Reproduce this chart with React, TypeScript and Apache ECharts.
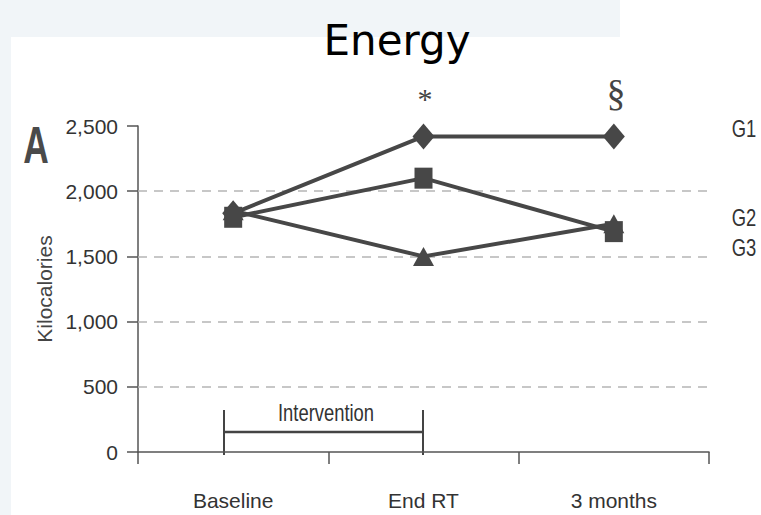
import React, { useEffect, useRef } from "react";
import * as echarts from "echarts";

const categories = ["Baseline", "End RT", "3 months"];
const g1Values = [1830, 2420, 2420];
const g2Values = [1800, 2100, 1690];
const g3Values = [1850, 1500, 1750];
const gridValues = [500, 1000, 1500, 2000];
const seriesNames = ["G1", "G2", "G3"];

const FONT = "'Liberation Sans', Arial, sans-serif";
const INK = "#474747";

export default function App() {
  const ref = useRef<HTMLDivElement>(null);
  useEffect(() => {
    document.body.style.margin = "0";
    const chart = echarts.init(ref.current!, null, { renderer: "svg" });
    const mk = (name: string, data: number[], symbol: string, size: number[], extra: any = {}) => ({
      name,
      type: "line",
      data,
      symbol,
      symbolSize: size,
      lineStyle: { color: INK, width: 4 },
      itemStyle: { color: INK },
      z: 3,
      ...extra,
    });
    const txt = (text: string, x: number, y: number, size: number, extra: any = {}) => ({
      type: "text",
      x,
      y,
      scaleX: 0.8,
      style: { text, fontSize: size, fontFamily: FONT, fill: "#333", align: "center", verticalAlign: "middle", ...extra },
    });
    chart.setOption({
      animation: false,
      backgroundColor: "#f1f5f8",
      grid: { left: 138, right: 52, top: 126, bottom: 63 },
      xAxis: {
        type: "category",
        data: categories,
        boundaryGap: true,
        axisLine: { lineStyle: { color: "#555", width: 1.5 } },
        axisTick: { show: true, length: 12, lineStyle: { color: "#555", width: 1.5 } },
        axisLabel: { margin: 38, fontSize: 21, color: "#333", fontFamily: FONT },
      },
      yAxis: {
        type: "value",
        min: 0,
        max: 2500,
        interval: 500,
        name: "Kilocalories",
        nameLocation: "middle",
        nameGap: 82,
        nameTextStyle: { fontSize: 21, color: "#444", fontFamily: FONT },
        axisLine: { show: true, lineStyle: { color: "#555", width: 1.5 } },
        axisTick: { show: true, length: 11, lineStyle: { color: "#555", width: 1.5 } },
        axisLabel: {
          margin: 20,
          fontSize: 21,
          color: "#333",
          fontFamily: FONT,
          formatter: (v: number) => v.toLocaleString("en-US"),
        },
        splitLine: { show: false },
      },
      series: [
        mk(seriesNames[0], g1Values, "diamond", [22, 26], {
          markLine: {
            silent: true,
            symbol: "none",
            label: { show: false },
            lineStyle: { color: "#b5b5b5", type: [9, 7], width: 1.5 },
            data: gridValues.map((v) => ({ yAxis: v })),
            z: 1,
          },
        }),
        mk(seriesNames[2], g3Values, "triangle", [21, 19]),
        mk(seriesNames[1], g2Values, "rect", [18, 21]),
      ],
      graphic: [
        { type: "rect", shape: { x: 11, y: 37, width: 750, height: 478 }, style: { fill: "#ffffff" }, z: -10 },
        { type: "rect", shape: { x: 620, y: 0, width: 141, height: 37 }, style: { fill: "#ffffff" }, z: -10 },
        {
          type: "text",
          x: 397,
          y: 40,
          style: { text: "Energy", fontSize: 42, fontFamily: "'DejaVu Sans', sans-serif", fill: "#000", align: "center", verticalAlign: "middle" },
        },
        { ...txt("A", 36, 145, 52, { fontWeight: "bold", fill: "#4a4a4a" }), scaleX: 0.68 },
        { type: "text", x: 425, y: 98, style: { text: "*", fontSize: 30, fontFamily: "'Liberation Serif', serif", fill: "#444", align: "center", verticalAlign: "middle" } },
        { type: "text", x: 616, y: 93, style: { text: "§", fontSize: 38, fontFamily: "'Liberation Serif', serif", fill: "#444", align: "center", verticalAlign: "middle" } },
        txt("G1", 744, 129, 23),
        txt("G2", 744, 218, 23),
        txt("G3", 744, 248, 23),
        { type: "line", shape: { x1: 224, y1: 410, x2: 224, y2: 455 }, style: { stroke: "#444", lineWidth: 2 } },
        { type: "line", shape: { x1: 423, y1: 410, x2: 423, y2: 455 }, style: { stroke: "#444", lineWidth: 2 } },
        { type: "line", shape: { x1: 224, y1: 432, x2: 423, y2: 432 }, style: { stroke: "#444", lineWidth: 2.5 } },
        txt("Intervention", 326, 413, 23),
      ],
    });
    return () => chart.dispose();
  }, []);
  return <div ref={ref} style={{ width: 761, height: 515 }} />;
}
